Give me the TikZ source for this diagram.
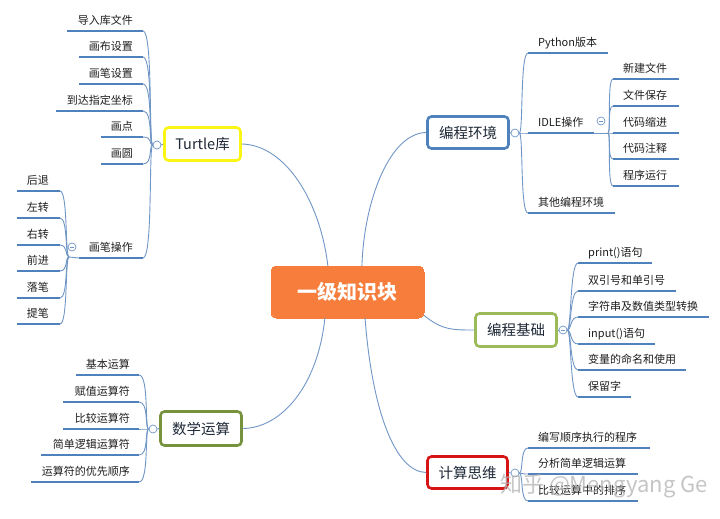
\documentclass[tikz,border=0pt]{standalone}
\usepackage{fontspec}
\setmainfont{Noto Sans CJK SC}
\usetikzlibrary{calc}
\definecolor{ulc}{RGB}{79,129,189}
\definecolor{brc}{RGB}{112,150,198}
\definecolor{orng}{RGB}{246,125,60}
\definecolor{yel}{RGB}{250,245,20}
\definecolor{bluec}{RGB}{79,129,189}
\definecolor{grn}{RGB}{155,187,89}
\definecolor{olv}{RGB}{118,146,60}
\definecolor{redc}{RGB}{214,20,20}
\definecolor{txtc}{RGB}{30,40,55}
\definecolor{leafc}{RGB}{30,30,30}
\tikzset{
 uline/.style={draw=ulc, line width=2.4pt},
 br/.style={draw=brc, line width=0.9pt},
 mainc/.style={draw=brc, line width=0.9pt},
 box/.style={draw, fill=white, rounded corners=4pt, line width=2.6pt, font=\fontsize{14.5}{16}\selectfont, text=txtc, inner sep=0pt},
 leaftxt/.style={font=\fontsize{11}{13}\selectfont, text=leafc, inner sep=0pt},
 tog/.style={circle, draw=brc, fill=white, line width=0.7pt, minimum size=8pt, inner sep=0pt},
}
\newcommand{\lfR}[5]{%
 \coordinate (#1-l) at (#3,#5); \coordinate (#1-r) at (#4,#5);
 \draw[uline] (#1-l) -- (#1-r);
 \node[leaftxt, anchor=base west] (#1) at (#3+10,#5-6.5) {#2};}
\newcommand{\lfL}[6]{%
 \coordinate (#1-l) at (#3,#5); \coordinate (#1-r) at (#4,#5);
 \draw[uline] (#1-l) -- (#1-r);
 \node[leaftxt, anchor=base east] (#1) at (#6,#5-6.5) {#2};}
\begin{document}
\begin{tikzpicture}[x=1pt,y=-1pt]
\useasboundingbox (0,0) rectangle (720,519);

% main boxes
\node[box, draw=orng, fill=orng, line width=0pt, rounded corners=6pt, minimum width=153pt, minimum height=52pt, text=white, font=\fontsize{20}{22}\selectfont\bfseries] (c) at (347.5,292) {一级知识块};
\node[box, draw=yel, minimum width=76pt, minimum height=33pt] (t) at (202.5,144) {Turtle库};
\node[box, draw=bluec, minimum width=81pt, minimum height=32pt] (e) at (468,132.5) {编程环境};
\node[box, draw=grn, minimum width=81pt, minimum height=33pt] (b) at (516,330) {编程基础};
\node[box, draw=olv, minimum width=81pt, minimum height=34pt] (m) at (201,428.5) {数学运算};
\node[box, draw=redc, minimum width=80pt, minimum height=32pt] (k) at (467.5,472.5) {计算思维};

% center connectors
\draw[mainc] (c.127) .. controls (320,200) and (285,145) .. (t.east);
\draw[mainc] (c.61) .. controls (364,200) and (390,133) .. (e.west);
\draw[mainc] (c.343) .. controls (442,330) and (452,330) .. (b.west);
\draw[mainc] (c.229) .. controls (318,385) and (282,428) .. (m.east);
\draw[mainc] (c.304) .. controls (372,410) and (395,472) .. (k.west);

% toggles
\node[tog] (tt) at (157,145) {};
\node[tog] (pt) at (72,247) {};
\node[tog] (mt) at (153,429) {};
\node[tog] (et) at (515,133) {};
\node[tog] (it) at (601,121) {};
\node[tog] (bt) at (563,330) {};
\node[tog] (kt) at (515,473) {};
\foreach \q in {pt,it,bt}{\draw[brc, line width=0.6pt] ($(\q)+(-2.2,0)$) -- ($(\q)+(2.2,0)$);}
\coordinate (pj) at (69,257);
\coordinate (ij) at (608,133);

% Turtle leaves
\lfL{t1}{导入库文件}{67}{143}{31}{133}
\lfL{t2}{画布设置}{79}{143}{57}{133}
\lfL{t3}{画笔设置}{79}{143}{84}{133}
\lfL{t4}{到达指定坐标}{56}{143}{111}{133}
\lfL{t5}{画点}{101}{143}{137}{133}
\lfL{t6}{画圆}{101}{143}{164}{133}
\lfL{t7}{画笔操作}{79}{143}{258}{133}
\draw[br] (t.west) -- (tt.east);
\foreach \n in {t1,t2,t3,t4,t5,t6,t7}{\draw[br] (tt.west) .. controls +(-4,0) and +(10,0) .. (\n-r);}

% pen operation leaves
\lfL{p1}{后退}{17}{60}{191}{49}
\lfL{p2}{左转}{17}{60}{218}{49}
\lfL{p3}{右转}{17}{60}{245}{49}
\lfL{p4}{前进}{17}{60}{271}{49}
\lfL{p5}{落笔}{17}{60}{298}{49}
\lfL{p6}{提笔}{17}{60}{324}{49}
\draw[br] (t7-l) -- (pj);
\foreach \n in {p1,p2,p3,p4,p5,p6}{\draw[br] (pj) .. controls +(-4,0) and +(8,0) .. (\n-r);}

% math leaves
\lfL{m1}{基本运算}{76}{139}{375}{130}
\lfL{m2}{赋值运算符}{63}{139}{402}{130}
\lfL{m3}{比较运算符}{63}{139}{429}{130}
\lfL{m4}{简单逻辑运算符}{41}{139}{455}{130}
\lfL{m5}{运算符的优先顺序}{31}{139}{482}{130}
\draw[br] (m.west) -- (mt.east);
\foreach \n in {m1,m2,m3,m4,m5}{\draw[br] (mt.west) .. controls +(-4,0) and +(10,0) .. (\n-r);}

% environment leaves
\lfR{e1}{Python版本}{528}{608}{53}
\lfR{e2}{IDLE操作}{528}{594}{133}
\lfR{e3}{其他编程环境}{528}{615}{213}
\draw[br] (e.east) -- (et.west);
\foreach \n in {e1,e2,e3}{\draw[br] (et.east) .. controls +(4,0) and +(-8,0) .. (\n-l);}

% IDLE leaves
\lfR{i1}{新建文件}{613}{679}{79}
\lfR{i2}{文件保存}{613}{679}{106}
\lfR{i3}{代码缩进}{613}{679}{133}
\lfR{i4}{代码注释}{613}{679}{159}
\lfR{i5}{程序运行}{613}{679}{186}
\draw[br] (e2-r) -- (ij);
\foreach \n in {i1,i2,i3,i4,i5}{\draw[br] (ij) .. controls +(3,0) and +(-6,0) .. (\n-l);}

% basics leaves
\lfR{b1}{print()语句}{578}{652}{263}
\lfR{b2}{双引号和单引号}{578}{676}{291}
\lfR{b3}{字符串及数值类型转换}{578}{709}{317}
\lfR{b4}{input()语句}{578}{655}{344}
\lfR{b5}{变量的命名和使用}{578}{686}{370}
\lfR{b6}{保留字}{578}{631}{397}
\draw[br] (b.east) -- (bt.west);
\foreach \n in {b1,b2,b3,b4,b5,b6}{\draw[br] (bt.east) .. controls +(4,0) and +(-8,0) .. (\n-l);}

% thinking leaves
\lfR{k1}{编写顺序执行的程序}{528}{650}{448}
\lfR{k2}{分析简单逻辑运算}{528}{638}{474}
\lfR{k3}{比较运算中的排序}{528}{638}{501}
\draw[br] (k.east) -- (kt.west);
\foreach \n in {k1,k2,k3}{\draw[br] (kt.east) .. controls +(4,0) and +(-8,0) .. (\n-l);}

% watermark
\node[font=\fontsize{22}{24}\selectfont, text=gray!60, opacity=0.75, anchor=west, inner sep=0pt] (wm) at (500,486) {知乎 @Mengyang Ge};
\end{tikzpicture}
\end{document}
